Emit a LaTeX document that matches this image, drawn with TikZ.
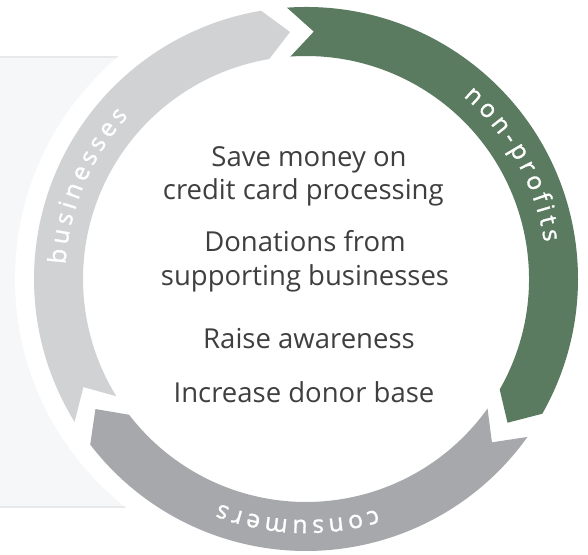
\documentclass[tikz,border=0pt]{standalone}
\usepackage{fontspec}
\setmainfont{Open Sans}
\newfontfamily\arcfnt[FakeBold=1.2]{Open Sans}
\definecolor{npgreen}{HTML}{5A7B5F}
\definecolor{bizgrey}{HTML}{D1D2D4}
\definecolor{congrey}{HTML}{A7A8AB}
\definecolor{bgpanel}{HTML}{F6F7F8}
\definecolor{bgline}{HTML}{E8E9EA}
\definecolor{bodytext}{HTML}{3F3F3F}
\def\Ro{272pt}
\def\Ri{223pt}
\def\Rm{247.5pt}
\def\dl{5.8}
\def\lsp{4.3}
\newdimen\arclen
\newcommand\cycarrow[3]{%
  \fill[#3] (#1:\Ro) arc[start angle=#1, end angle={#2+\dl}, radius=\Ro]
    -- (#2:\Rm) -- ({#2+\dl}:\Ri)
    arc[start angle={#2+\dl}, end angle=#1, radius=\Ri]
    -- ({#1-\dl}:\Rm) -- cycle;}
% #1 letters (comma list), #2 centre angle, #3 baseline radius, #4 name prefix
\newcommand\arcword[4]{%
  \begingroup
  \arcfontsize
  \global\arclen=0pt
  \foreach \ch in {#1}{\pgfmathwidth{"\ch"}\global\advance\arclen by \pgfmathresult pt\global\advance\arclen by \lsp pt}%
  \global\advance\arclen by -\lsp pt
  \pgfmathsetmacro\tmpang{#2 + (\arclen/2)/#3*180/pi}%
  \global\let\curang\tmpang
  \foreach \ch [count=\i] in {#1}{%
    \pgfmathwidth{"\ch"}\let\w\pgfmathresult
    \pgfmathsetmacro\cang{\curang - (\w/2)/#3*180/pi}%
    \node[arcletter, rotate={\cang-90}] (#4\i) at (\cang:#3pt) {\ch};
    \pgfmathsetmacro\tmpang{\curang - (\w+\lsp)/#3*180/pi}%
    \global\let\curang\tmpang
  }%
  \endgroup}
\newcommand\arcfontsize{\arcfnt\fontsize{24.5}{26}\selectfont}
\tikzset{
  bodytxt/.style={text=bodytext, font=\fontsize{27.5}{30}\selectfont, inner sep=0pt, anchor=base},
  arcletter/.style={text=white, font=\arcfontsize, inner sep=0pt, anchor=base}
}
\begin{document}
\begin{tikzpicture}[x=1pt,y=1pt]
\useasboundingbox (0,0) rectangle (588,554);
% background panel
\fill[bgpanel] (0,46) rectangle (320,497);
\draw[bgline, line width=2pt] (0,497) -- (320,497);
\draw[bgline, line width=2pt] (0,47) -- (320,47);
\begin{scope}[shift={(306,275)}]
  \fill[white] (0,0) circle[radius=291pt];
  \cycarrow{94}{-35.5}{npgreen}
  \cycarrow{-35.5}{-148.3}{congrey}
  \cycarrow{211.7}{93.7}{bizgrey}
  \arcword{n,o,n,-,p,r,o,f,i,t,s}{29}{241}{np}
  \arcword{b,u,s,i,n,e,s,s,e,s}{157}{241}{bz}
  \arcword{c,o,n,s,u,m,e,r,s}{-92}{241}{cs}
\end{scope}
\node[bodytxt] (l1) at (309,387.3) {Save money on};
\node[bodytxt] (l2) at (303.3,354) {credit card processing};
\node[bodytxt] (l3) at (305,302.3) {Donations from};
\node[bodytxt] (l4) at (305,268) {supporting businesses};
\node[bodytxt] (l5) at (309,205) {Raise awareness};
\node[bodytxt] (l6) at (304,151) {Increase donor base};
\end{tikzpicture}
\end{document}
